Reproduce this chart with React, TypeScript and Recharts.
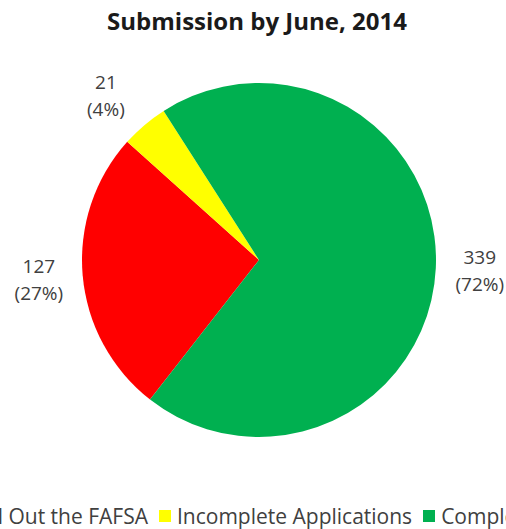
import { Cell, Pie, PieChart } from 'recharts'

const categories = ['Did Not Fill Out the FAFSA', 'Incomplete Applications', 'Completed Applications']
const counts = [127, 21, 339]
const percentLabels = ['27%', '4%', '72%']
const colors = ['#FF0000', '#FFFF00', '#00B050']

const data = categories.map((name, i) => ({ name, value: counts[i], pct: percentLabels[i] }))

const FONT = '"Open Sans", Lato, sans-serif'
const RAD = Math.PI / 180

function renderLabel(props: any) {
  const { cx, cy, midAngle, outerRadius, index } = props
  const r = outerRadius + 44
  // small slice label sits a bit further out to the left, like Excel's placement
  const nudgeX = index === 1 ? -10 : 0
  const nudgeY = index === 1 ? 3 : 0
  const x = cx + r * Math.cos(-midAngle * RAD) + nudgeX
  const y = cy + r * Math.sin(-midAngle * RAD) + nudgeY
  return (
    <text x={x} y={y} textAnchor="middle" fill="#404040" fontSize={19} fontFamily={FONT}>
      <tspan x={x} dy={-6}>{counts[index]}</tspan>
      <tspan x={x} dy={27}>({percentLabels[index]})</tspan>
    </text>
  )
}

export default function App() {
  return (
    <div
      style={{
        position: 'absolute',
        left: 0,
        top: 0,
        width: 506,
        height: 529,
        overflow: 'hidden',
        background: '#fff',
        fontFamily: FONT,
      }}
    >
      <div
        style={{
          position: 'absolute',
          top: 4,
          left: 0,
          width: 514,
          textAlign: 'center',
          fontSize: 24,
          fontWeight: 700,
          color: '#1a1a1a',
        }}
      >
        Submission by June, 2014
      </div>
      <PieChart width={506} height={529}>
        <Pie
          data={data}
          dataKey="value"
          nameKey="name"
          cx={254}
          cy={255}
          outerRadius={177}
          startAngle={-128}
          endAngle={-488}
          stroke="none"
          label={renderLabel}
          labelLine={false}
          isAnimationActive={false}
        >
          {data.map((d, i) => (
            <Cell key={d.name} fill={colors[i]} />
          ))}
        </Pie>
      </PieChart>
      <div
        style={{
          position: 'absolute',
          top: 502,
          left: -122,
          display: 'flex',
          alignItems: 'center',
          whiteSpace: 'nowrap',
          fontSize: 21,
          color: '#404040',
        }}
      >
        {categories.map((c, i) => (
          <div key={c} style={{ display: 'flex', alignItems: 'center', marginRight: 11 }}>
            <span style={{ width: 12, height: 12, background: colors[i], marginRight: 6 }} />
            <span>{c}</span>
          </div>
        ))}
      </div>
    </div>
  )
}
